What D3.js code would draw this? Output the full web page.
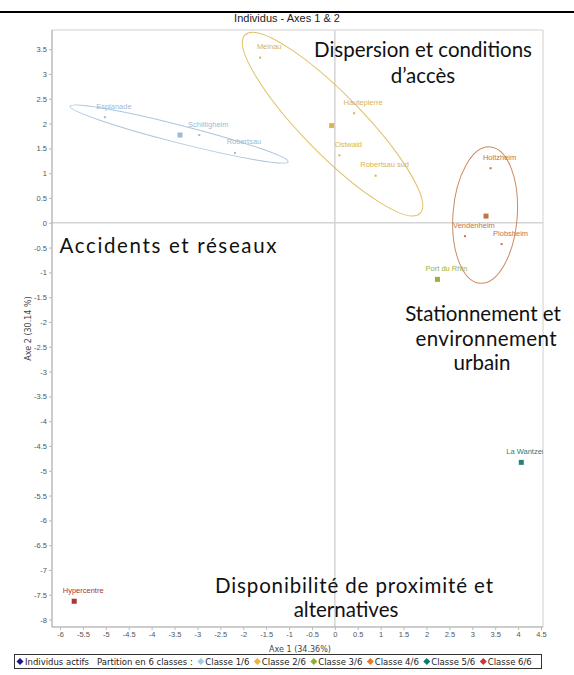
<!DOCTYPE html>
<html>
<head>
<meta charset="utf-8">
<style>
  body { margin: 0; background: #fff; }
  text { font-family: "Liberation Sans", Arial, sans-serif; }
  .big { font-family: Lato, "Open Sans", sans-serif; font-size: 20.5px; fill: #111; }
</style>
</head>
<body>
<svg width="574" height="675"></svg>
<script src="https://d3js.org/d3.v7.min.js"></script>
<script>

// ---- data ----
var classNames  = ["Classe 1/6", "Classe 2/6", "Classe 3/6", "Classe 4/6", "Classe 5/6", "Classe 6/6"];
var classColors = ["#9dbbd6", "#d9b54e", "#98b03e", "#c27544", "#2a8080", "#ab3434"];
var legendColors = ["#a9c9e2", "#e8b833", "#8fb02c", "#e27a33", "#0f7b6c", "#d23434"];
var activeColor = "#1a1a8c";

var indNames  = ["Esplanade", "Schiltigheim", "Robertsau", "Meinau", "Hautepierre", "Ostwald", "Robertsau sud",
                 "Holtzheim", "Vendenheim", "Plobsheim", "Port du Rhin", "La Wantzenau", "Hypercentre"];
var indX      = [-5.02, -2.96, -2.18, -1.63, 0.42, 0.10, 0.89, 3.40, 2.84, 3.64, 2.24, 4.07, -5.69];
var indY      = [2.13, 1.77, 1.41, 3.33, 2.21, 1.36, 0.95, 1.10, -0.27, -0.43, -1.14, -4.83, -7.63];
var indClass  = [0, 0, 0, 1, 1, 1, 1, 3, 3, 3, 2, 4, 5];

// class centres (squares)
var centX = [-3.38, -0.07, 2.24, 3.30, 4.07, -5.69];
var centY = [1.77, 1.96, -1.14, 0.135, -4.83, -7.63];

// ellipses: centre, end of the long axis, ratio short/long axis
var ellClass = [0, 1, 3];
var ellCX    = [-3.40, -0.05, 3.28];
var ellCY    = [1.79, 1.99, 0.155];
var ellEX    = [-1.02, 1.86, 3.17];
var ellEY    = [1.23, 0.19, -1.22];
var ellRatio = [0.079, 0.24, 0.47];

var xTicks = d3.range(-6, 4.51, 0.5);
var yTicks = d3.range(-8, 3.51, 0.5);

var noteLines = [
  ["Dispersion et conditions", "d\u2019acc\u00e8s"],
  ["Accidents et r\u00e9seaux"],
  ["Stationnement et", "environnement", "urbain"],
  ["Disponibilit\u00e9 de proximit\u00e9 et", "alternatives"]
];

// ---- layout ----
var svg = d3.select("svg");
var pLeft = 52, pRight = 543, pTop = 30, pBottom = 627;

var x = d3.scaleLinear().domain([-6, 4.5]).range([60.0, 541.0]);
var y = d3.scaleLinear().domain([-8, 3.5]).range([619.6, 49.2]);

// where the annotations sit (pixels, centre of each line / baseline) and their widths
var notePos = [
  { cx: [423, 423],      by: [57, 83],       w: [220, 63] },
  { cx: [168],           by: [253],          w: [217] },
  { cx: [483, 486, 482], by: [321, 346, 370], w: [153, 141, 57] },
  { cx: [354, 346],      by: [593, 617],     w: [278, 102] }
];

// black rule at the top
svg.append("rect").attr("x", 0).attr("y", 11).attr("width", 574).attr("height", 2).attr("fill", "#000");

// title
svg.append("text").attr("x", 287).attr("y", 22).attr("text-anchor", "middle")
   .style("font-size", "11px").style("fill", "#222").text("Individus - Axes 1 & 2");

// frame
svg.append("path").attr("d", "M" + pLeft + "," + pTop + "H" + pRight + "V" + pBottom)
   .attr("fill", "none").attr("stroke", "#d0d0d0");

// zero lines
svg.append("line").attr("x1", x(0)).attr("x2", x(0)).attr("y1", pTop).attr("y2", pBottom)
   .attr("stroke", "#d4d4d4").attr("stroke-width", 1.5);
svg.append("line").attr("x1", pLeft).attr("x2", pRight).attr("y1", y(0)).attr("y2", y(0))
   .attr("stroke", "#d4d4d4").attr("stroke-width", 1.5);

// axes
var fmt = function(d) { return String(+d.toFixed(1)); };
var gx = svg.append("g").attr("transform", "translate(0," + pBottom + ")")
   .call(d3.axisBottom(x).tickValues(xTicks).tickFormat(fmt).tickSize(3).tickPadding(2));
var gy = svg.append("g").attr("transform", "translate(" + pLeft + ",0)")
   .call(d3.axisLeft(y).tickValues(yTicks).tickFormat(fmt).tickSize(3).tickPadding(2));
[gx, gy].forEach(function(g) {
  g.select(".domain").attr("stroke", "#999");
  g.selectAll(".tick line").attr("stroke", "#bbb");
  g.selectAll(".tick text").style("font-size", "7.5px").style("fill", "#555")
   .style("font-family", "'Liberation Sans', Arial, sans-serif");
});
gx.select(".domain").attr("d", "M" + pLeft + ",0H" + pRight);
gy.select(".domain").attr("d", "M0," + pTop + "V" + pBottom);

// axis titles
svg.append("text").attr("x", 300).attr("y", 652).attr("text-anchor", "middle")
   .style("font-family", "'DejaVu Sans', sans-serif").style("font-size", "8px").style("fill", "#444")
   .text("Axe 1 (34.36%)");
svg.append("text").attr("transform", "translate(31," + ((pTop + pBottom) / 2) + ") rotate(-90)")
   .attr("text-anchor", "middle").style("font-family", "'DejaVu Sans', sans-serif")
   .style("font-size", "8px").style("fill", "#444").text("Axe 2 (30.14 %)");

// clip to plot area
svg.append("clipPath").attr("id", "plot").append("rect")
   .attr("x", pLeft).attr("y", pTop).attr("width", pRight - pLeft).attr("height", pBottom - pTop);
var plot = svg.append("g").attr("clip-path", "url(#plot)");

// ellipses
ellClass.forEach(function(c, i) {
  var cx = x(ellCX[i]), cy = y(ellCY[i]);
  var ex = x(ellEX[i]), ey = y(ellEY[i]);
  var a = Math.hypot(ex - cx, ey - cy);
  var ang = Math.atan2(ey - cy, ex - cx) * 180 / Math.PI;
  plot.append("ellipse")
      .attr("cx", 0).attr("cy", 0).attr("rx", a).attr("ry", a * ellRatio[i])
      .attr("transform", "translate(" + cx + "," + cy + ") rotate(" + ang + ")")
      .attr("fill", "none").attr("stroke", classColors[c]).attr("stroke-opacity", 0.85).attr("stroke-width", 1);
});

// individual points
indNames.forEach(function(n, i) {
  plot.append("rect").attr("x", x(indX[i]) - 1).attr("y", y(indY[i]) - 1)
      .attr("width", 2).attr("height", 2).attr("fill", classColors[indClass[i]]);
  plot.append("text").attr("x", x(indX[i]) + 9).attr("y", y(indY[i]) - 8.5)
      .attr("text-anchor", "middle").style("font-size", "7.5px")
      .style("fill", classColors[indClass[i]]).text(n);
});

// centres
centX.forEach(function(cx, i) {
  plot.append("rect").attr("x", x(cx) - 2.5).attr("y", y(centY[i]) - 2.5)
      .attr("width", 5).attr("height", 5).attr("fill", classColors[i]);
});

// big annotations
noteLines.forEach(function(lines, j) {
  lines.forEach(function(l, k) {
    var p = notePos[j];
    var t = svg.append("text").attr("class", "big").attr("x", p.cx[k]).attr("y", p.by[k])
       .attr("text-anchor", "middle").text(l);
    if (Math.abs(t.node().getComputedTextLength() - p.w[k]) > 4)
      t.attr("textLength", p.w[k]).attr("lengthAdjust", "spacing");
  });
});

// legend
var lg = svg.append("g");
lg.append("rect").attr("x", 14.5).attr("y", 654.5).attr("width", 527).attr("height", 14)
  .attr("fill", "#fff").attr("stroke", "#333");
var cur = 18;
function diamond(cx, col) {
  lg.append("path").attr("d", d3.symbol(d3.symbolDiamond2, 32)())
    .attr("transform", "translate(" + cx + ",661.5)").attr("fill", col);
}
function label(t) {
  var tt = lg.append("text").attr("x", cur).attr("y", 664.5)
    .style("font-family", "'DejaVu Sans', sans-serif").style("font-size", "8.5px").style("fill", "#222").text(t);
  cur += tt.node().getComputedTextLength();
}
diamond(cur + 2, activeColor); cur += 7; label("Individus actifs");
cur += 8; label("Partition en 6 classes :");
classNames.forEach(function(c, i) {
  cur += 6; diamond(cur + 2, legendColors[i]); cur += 6.5; label(c);
});

</script>
</body>
</html>
